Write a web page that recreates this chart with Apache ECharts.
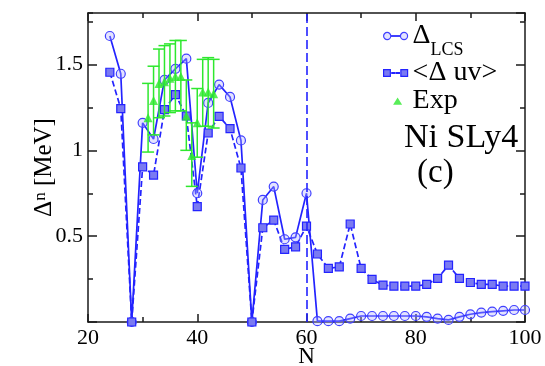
<!DOCTYPE html>
<html><head><meta charset="utf-8">
<script src="https://cdn.jsdelivr.net/npm/echarts@6.0.0/dist/echarts.min.js"></script>
<style>html,body{margin:0;padding:0;background:#fff}#c{width:545px;height:366px}</style>
</head><body><div id="c"></div>
<script>
// ---- data ----
const nValues = [24,26,28,30,32,34,36,38,40,42,44,46,48,50,52,54,56,58,60,62,64,66,68,70,72,74,76,78,80,82,84,86,88,90,92,94,96,98,100];
const deltaLCS = [1.666,1.446,0,1.16,1.066,1.41,1.475,1.534,0.75,1.276,1.383,1.311,1.058,0,0.711,0.789,0.482,0.493,0.75,0.005,0.005,0.005,0.02,0.035,0.035,0.035,0.035,0.035,0.035,0.03,0.02,0.012,0.03,0.045,0.055,0.06,0.065,0.07,0.07];
const deltaUV = [1.455,1.243,0,0.904,0.856,1.237,1.325,1.2,0.672,1.101,1.198,1.126,0.897,0,0.549,0.594,0.423,0.438,0.559,0.396,0.312,0.321,0.571,0.312,0.248,0.215,0.209,0.209,0.209,0.219,0.254,0.331,0.254,0.23,0.219,0.219,0.209,0.209,0.209];
const expN = [31,32,33,34,35,36,37,38,39,40,41,42,43];
const expVal = [1.19,1.29,1.39,1.40,1.42,1.43,1.43,1.20,0.97,1.16,1.34,1.34,1.33];
const expLow = [0.99,1.09,1.19,1.20,1.22,1.23,1.23,1.00,0.79,0.96,1.14,1.14,1.13];
const expHigh = [1.39,1.49,1.59,1.61,1.62,1.64,1.64,1.41,1.16,1.36,1.53,1.54,1.53];
const xTickLabels = [20,40,60,80,100];
const yTickLabels = [0.5,1,1.5];
const shellN = 60;

const FONT = 'Liberation Serif';
const BLUE = '#2323ff';
const GREEN = '#2ee82e';

const lcsData = nValues.map((n,i)=>[n,deltaLCS[i]]);
const uvData = nValues.map((n,i)=>[n,deltaUV[i]]);
const expData = expN.map((n,i)=>[n,expVal[i]]);
const errData = expN.map((n,i)=>[n,expLow[i],expHigh[i]]);

const axisLineStyle = {color:'#1a1a1a', width:1.5};
function xAx(pos, labels){
  return {type:'value', min:20, max:100, interval:20, position:pos,
    axisLine:{show:true, onZero:false, lineStyle:axisLineStyle},
    axisTick:{show:true, inside:true, length:8, lineStyle:{color:'#1a1a1a', width:1.5}},
    minorTick:{show:true, splitNumber:2, length:5, lineStyle:{color:'#1a1a1a', width:1.5}},
    splitLine:{show:false}, minorSplitLine:{show:false},
    axisLabel: labels ? {show:true, color:'#000', fontFamily:FONT, fontSize:22, margin:5,
      formatter: v => xTickLabels.includes(v) ? String(v) : ''} : {show:false},
    name: labels ? 'N' : '', nameLocation:'middle', nameGap:23, nameMoveOverlap:false,
    nameTextStyle:{color:'#000', fontFamily:FONT, fontSize:23, verticalAlign:'top'}
  };
}
function yAx(pos, major, line, labels){
  return {type:'value', min:0, max:1.8, interval: major ? 0.5 : 0.25, position:pos,
    axisLine:{show:line, onZero:false, lineStyle:axisLineStyle},
    axisTick:{show:true, inside:true, length: major ? 9 : 5, lineStyle:{color:'#1a1a1a', width:1.5}},
    splitLine:{show:false},
    axisLabel: labels ? {show:true, color:'#000', fontFamily:FONT, fontSize:22, margin:5, showMaxLabel:false,
      formatter: v => yTickLabels.includes(v) ? String(v) : ''} : {show:false},
    name: labels ? '{a|Δ}{b|n}{a| [MeV]}' : '', nameLocation:'middle', nameGap:31, nameMoveOverlap:false,
    nameTextStyle:{color:'#000', fontFamily:FONT, fontSize:25,
      rich:{a:{fontFamily:FONT, fontSize:25, lineHeight:25, color:'#000'},
            b:{fontFamily:FONT, fontSize:17, lineHeight:17, verticalAlign:'top', color:'#000'}}}
  };
}

const iconLCS = 'path://M0.6,4A3.4,3.4,0,1,1,7.4,4A3.4,3.4,0,1,1,0.6,4ZM7.4,3.6L16.6,3.6L16.6,4.4L7.4,4.4ZM16.6,4A3.4,3.4,0,1,1,23.4,4A3.4,3.4,0,1,1,16.6,4Z';
const iconUV = 'path://M0.6,0.8L7,0.8L7,7.2L0.6,7.2ZM8.4,3.6L11.3,3.6L11.3,4.4L8.4,4.4ZM12.7,3.6L15.6,3.6L15.6,4.4L12.7,4.4ZM17,0.8L23.4,0.8L23.4,7.2L17,7.2Z';
const iconExp = 'path://M0,0L0.01,0ZM24,8L23.99,8ZM9.5,7.8L14,0.4L18.5,7.8Z';

const chart = echarts.init(document.getElementById('c'), null, {renderer:'canvas'});
chart.setOption({
  animation:false,
  backgroundColor:'#fff',
  grid:{left:88, right:20, top:13, bottom:44, containLabel:false, outerBoundsMode:'none'},
  xAxis:[xAx('bottom', true), xAx('top', false)],
  yAxis:[yAx('left', true, true, true), yAx('left', false, false, false), yAx('right', true, true, false), yAx('right', false, false, false)],
  legend:{
    orient:'vertical', left:383, top:22, padding:0, itemGap:0, itemWidth:24, itemHeight:8,
    symbolKeepAspect:true, selectedMode:false,
    textStyle:{color:'#000', fontFamily:FONT, fontSize:28,
      rich:{
        d:{fontFamily:FONT, fontSize:28, lineHeight:28, verticalAlign:'top', color:'#000'},
        s:{fontFamily:FONT, fontSize:18, lineHeight:18, verticalAlign:'top', padding:[19,0,0,0], color:'#000'},
        t:{fontFamily:FONT, fontSize:28, lineHeight:26, color:'#000'}
      }},
    formatter: name => name === 'Δ_LCS' ? '{d|Δ}{s|LCS}' : '{t|' + name + '}',
    data:[
      {name:'Δ_LCS', icon:iconLCS, itemStyle:{color:'rgba(175,175,255,0.35)', borderColor:'#4040ff', borderWidth:1.2}},
      {name:'<Δ uv>', icon:iconUV, itemStyle:{color:'#7a7af2', borderColor:BLUE, borderWidth:1.2}},
      {name:'Exp', icon:iconExp, itemStyle:{color:GREEN, borderWidth:0}}
    ]
  },
  graphic:[
    {type:'text', left:404, top:121, style:{text:'Ni SLy4', font:'34px "Liberation Serif"', fill:'#000'}},
    {type:'text', left:417, top:157, style:{text:'(c)', font:'33px "Liberation Serif"', fill:'#000'}}
  ],
  series:[
    {name:'Δ_LCS', type:'line', data:lcsData, symbol:'circle', symbolSize:9, z:3,
     lineStyle:{color:BLUE, width:1.7},
     itemStyle:{color:'rgba(175,175,255,0.35)', borderColor:'#4040ff', borderWidth:1.2},
     markLine:{silent:true, symbol:['none','none'], label:{show:false},
       lineStyle:{color:BLUE, type:[9,4], width:1.6}, data:[{xAxis:shellN}]}},
    {name:'<Δ uv>', type:'line', data:uvData, symbol:'rect', symbolSize:8, z:3,
     lineStyle:{color:BLUE, width:1.7, type:[6,3]},
     itemStyle:{color:'#7a7af2', borderColor:BLUE, borderWidth:1.2}},
    {name:'Exp err', type:'custom', data:errData, z:4,
     renderItem:(params, api)=>{
       const x = api.value(0);
       const lo = api.coord([x, api.value(1)]);
       const hi = api.coord([x, api.value(2)]);
       const st = {stroke:GREEN, lineWidth:1.5};
       return {type:'group', children:[
         {type:'line', shape:{x1:lo[0], y1:lo[1], x2:hi[0], y2:hi[1]}, style:st},
         {type:'line', shape:{x1:lo[0]-6, y1:lo[1], x2:lo[0]+6, y2:lo[1]}, style:st},
         {type:'line', shape:{x1:hi[0]-6, y1:hi[1], x2:hi[0]+6, y2:hi[1]}, style:st}
       ]};
     }},
    {name:'Exp', type:'scatter', data:expData, symbol:'triangle', symbolSize:9, z:5,
     itemStyle:{color:GREEN}}
  ]
});
</script>
</body></html>
